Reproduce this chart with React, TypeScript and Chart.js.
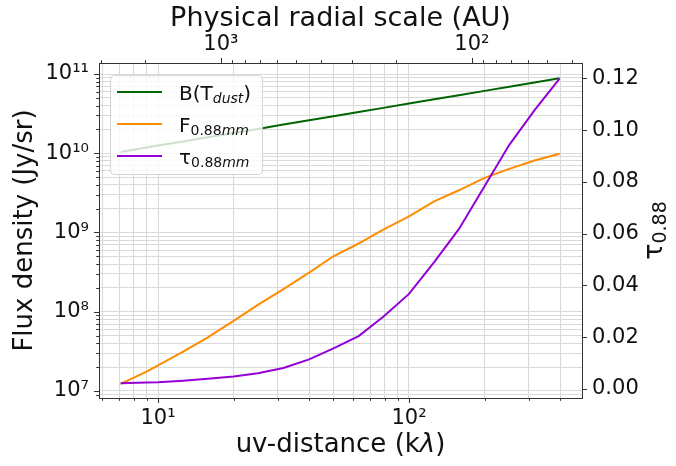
import React, { useEffect, useRef } from 'react';
import { Chart, registerables } from 'chart.js';

Chart.register(...registerables);

// ---------------- data ----------------
const uvDistance = [7.1, 9, 10, 12.6, 15.8, 20, 25, 31.6, 40, 50, 63, 79, 100, 126, 158, 200, 251, 316, 398];
const blackbodyFlux = [1.04e10, 1.18e10, 1.25e10, 1.41e10, 1.59e10, 1.8e10, 2.03e10, 2.3e10, 2.61e10, 2.93e10, 3.32e10, 3.74e10, 4.24e10, 4.8e10, 5.41e10, 6.13e10, 6.92e10, 7.81e10, 8.83e10];
const observedFlux = [1.23e7, 1.75e7, 2.1e7, 3.13e7, 4.75e7, 7.67e7, 1.22e8, 1.93e8, 3.12e8, 5.01e8, 7.26e8, 1.09e9, 1.6e9, 2.47e9, 3.41e9, 4.89e9, 6.35e9, 8.09e9, 9.86e9];
const opticalDepth = [0.0022, 0.0025, 0.0026, 0.0032, 0.0039, 0.0048, 0.0061, 0.0081, 0.0114, 0.0157, 0.0204, 0.0279, 0.0367, 0.049, 0.0617, 0.0783, 0.0943, 0.1076, 0.1199];

// axis ranges
const uvMin = 5.82;
const uvMax = 489;
const fluxMin = 8.15e6;
const fluxMax = 1.378e11;
const tauMin = -0.0035;
const tauMax = 0.1259;
const auPerUv = 17800; // physical scale (AU) = auPerUv / uv-distance

// tick values
const uvMajorTicks = [10, 100];
const uvMinorTicks = [6, 7, 8, 9, 20, 30, 40, 50, 60, 70, 80, 90, 200, 300, 400];
const minorMultipliers = [2, 3, 4, 5, 6, 7, 8, 9];
const fluxMajorTicks = [1e7, 1e8, 1e9, 1e10, 1e11];
const fluxMinorTicks = [9e6, ...[1e7, 1e8, 1e9, 1e10].flatMap((d) => minorMultipliers.map((m) => m * d))];
const tauTicks = [0, 0.02, 0.04, 0.06, 0.08, 0.1, 0.12];
const auMajorTicks = [1000, 100];
const auMinorTicks = [3000, 2000, 900, 800, 700, 600, 500, 400, 300, 200, 90, 80, 70, 60, 50, 40];

// ---------------- styling ----------------
const FONT = '"DejaVu Sans", sans-serif';
const TEXT = '#111111';
const AXIS = '#333333';
const GRID = '#d9d9d9';
const GREEN = '#006400';
const ORANGE = '#ff8c00';
const VIOLET = '#9400d3';

const SUP: Record<string, string> = { '0': '⁰', '1': '¹', '2': '²', '3': '³', '4': '⁴', '5': '⁵', '6': '⁶', '7': '⁷', '8': '⁸', '9': '⁹', '-': '⁻' };
const powLabel = (v: number) => {
  const e = Math.round(Math.log10(v));
  return '10' + String(e).split('').map((c) => SUP[c]).join('');
};
const mkTicks = (major: number[], minor: number[]) =>
  [...major.map((v) => ({ value: v, major: true })), ...minor.map((v) => ({ value: v, major: false }))].sort((a, b) => a.value - b.value);

type Part = { t: string; size: number; italic?: boolean; dy?: number };
function drawRich(ctx: CanvasRenderingContext2D, parts: Part[], x: number, y: number, align: 'left' | 'center') {
  const widths = parts.map((p) => {
    ctx.font = `${p.italic ? 'italic ' : ''}${p.size}px ${FONT}`;
    return ctx.measureText(p.t).width;
  });
  const total = widths.reduce((a, b) => a + b, 0);
  let cx = align === 'center' ? x - total / 2 : x;
  ctx.textAlign = 'left';
  ctx.textBaseline = 'alphabetic';
  parts.forEach((p, i) => {
    ctx.font = `${p.italic ? 'italic ' : ''}${p.size}px ${FONT}`;
    ctx.fillText(p.t, cx, y + (p.dy || 0));
    cx += widths[i];
  });
}

const tickMarksPlugin = {
  id: 'tickMarks',
  afterDraw(chart: any) {
    const ctx: CanvasRenderingContext2D = chart.ctx;
    const { left, right, top, bottom } = chart.chartArea;
    ctx.save();
    ctx.strokeStyle = AXIS;
    ctx.lineWidth = 1;
    (['x', 'x2', 'y', 'y2'] as const).forEach((id) => {
      const s = chart.scales[id];
      s.ticks.forEach((t: any) => {
        const len = t.major ? 5 : 2.8;
        const p = Math.round(s.getPixelForValue(t.value)) + 0.5;
        ctx.beginPath();
        if (id === 'x') { ctx.moveTo(p, bottom); ctx.lineTo(p, bottom + len); }
        if (id === 'x2') { ctx.moveTo(p, top); ctx.lineTo(p, top - len); }
        if (id === 'y') { ctx.moveTo(left, p); ctx.lineTo(left - len, p); }
        if (id === 'y2') { ctx.moveTo(right, p); ctx.lineTo(right + len, p); }
        ctx.stroke();
      });
    });
    ctx.restore();
  },
};

const labelsPlugin = {
  id: 'labelsAndLegend',
  afterDatasetsDraw(chart: any) {
    const ctx: CanvasRenderingContext2D = chart.ctx;
    const ca = chart.chartArea;
    const cxm = (ca.left + ca.right) / 2;
    const cym = (ca.top + ca.bottom) / 2;
    ctx.save();

    // legend box
    const bx = 110.5, by = 75.5, bw = 152, bh = 99, r = 4;
    ctx.beginPath();
    ctx.moveTo(bx + r, by);
    ctx.lineTo(bx + bw - r, by);
    ctx.arcTo(bx + bw, by, bx + bw, by + r, r);
    ctx.lineTo(bx + bw, by + bh - r);
    ctx.arcTo(bx + bw, by + bh, bx + bw - r, by + bh, r);
    ctx.lineTo(bx + r, by + bh);
    ctx.arcTo(bx, by + bh, bx, by + bh - r, r);
    ctx.lineTo(bx, by + r);
    ctx.arcTo(bx, by, bx + r, by, r);
    ctx.closePath();
    ctx.fillStyle = 'rgba(255,255,255,0.8)';
    ctx.fill();
    ctx.strokeStyle = 'rgba(204,204,204,0.8)';
    ctx.lineWidth = 1;
    ctx.stroke();

    const rows: { color: string; y: number; parts: Part[] }[] = [
      { color: GREEN, y: 92, parts: [{ t: 'B(T', size: 20 }, { t: 'dust', size: 14, italic: true, dy: 3.3 }, { t: ')', size: 20 }] },
      { color: ORANGE, y: 124, parts: [{ t: 'F', size: 20 }, { t: '0.88', size: 14, dy: 3.3 }, { t: 'mm', size: 14, italic: true, dy: 3.3 }] },
      { color: VIOLET, y: 156, parts: [{ t: 'τ', size: 20 }, { t: '0.88', size: 14, dy: 3.3 }, { t: 'mm', size: 14, italic: true, dy: 3.3 }] },
    ];
    rows.forEach((row) => {
      ctx.strokeStyle = row.color;
      ctx.lineWidth = 2;
      ctx.beginPath();
      ctx.moveTo(117, row.y);
      ctx.lineTo(162, row.y);
      ctx.stroke();
      ctx.fillStyle = TEXT;
      drawRich(ctx, row.parts, 179, row.y + 8, 'left');
    });

    // axis titles
    ctx.fillStyle = TEXT;
    drawRich(ctx, [{ t: 'Physical radial scale (AU)', size: 27 }], cxm, 26, 'center');
    drawRich(ctx, [{ t: 'uv-distance (k', size: 26 }, { t: 'λ', size: 26, italic: true }, { t: ')', size: 26 }], cxm, 452, 'center');

    ctx.save();
    ctx.translate(32, cym);
    ctx.rotate(-Math.PI / 2);
    drawRich(ctx, [{ t: 'Flux density (Jy/sr)', size: 26 }], 0, 0, 'center');
    ctx.restore();

    ctx.save();
    ctx.translate(662, cym);
    ctx.rotate(-Math.PI / 2);
    drawRich(ctx, [{ t: 'τ', size: 27 }, { t: '0.88', size: 19, dy: 4.4 }], 0, 0, 'center');
    ctx.restore();

    ctx.restore();
  },
};

const tickFont = { family: FONT, size: 21 };

export default function App() {
  const canvasRef = useRef<HTMLCanvasElement | null>(null);

  useEffect(() => {
    if (!canvasRef.current) return;
    const toPoints = (vals: number[]) => uvDistance.map((x, i) => ({ x, y: vals[i] }));
    const chart = new Chart(canvasRef.current, {
      type: 'line',
      data: {
        datasets: [
          { label: 'B(T_dust)', data: toPoints(blackbodyFlux), borderColor: GREEN, borderWidth: 2, pointRadius: 0, yAxisID: 'y', xAxisID: 'x', order: 2, tension: 0 },
          { label: 'F_0.88mm', data: toPoints(observedFlux), borderColor: ORANGE, borderWidth: 2, pointRadius: 0, yAxisID: 'y', xAxisID: 'x', order: 1, tension: 0 },
          { label: 'tau_0.88mm', data: toPoints(opticalDepth), borderColor: VIOLET, borderWidth: 2, pointRadius: 0, yAxisID: 'y2', xAxisID: 'x', order: 0, tension: 0 },
        ],
      },
      options: {
        responsive: false,
        animation: false,
        events: [],
        layout: { padding: 0 },
        plugins: { legend: { display: false }, tooltip: { enabled: false }, title: { display: false } },
        scales: {
          x: {
            type: 'logarithmic',
            position: 'bottom',
            min: uvMin,
            max: uvMax,
            afterBuildTicks: (s: any) => { s.ticks = mkTicks(uvMajorTicks, uvMinorTicks); },
            afterFit: (s: any) => { s.height = 68; },
            ticks: { autoSkip: false, maxRotation: 0, padding: 8, color: TEXT, font: tickFont, callback: (v: any, i: number, t: any[]) => (t[i].major ? powLabel(v) : '') },
            grid: { color: GRID, lineWidth: 1, drawTicks: false },
            border: { color: AXIS, width: 1 },
          },
          x2: {
            type: 'logarithmic',
            position: 'top',
            reverse: true,
            min: auPerUv / uvMax,
            max: auPerUv / uvMin,
            afterBuildTicks: (s: any) => { s.ticks = mkTicks(auMajorTicks, auMinorTicks); },
            afterFit: (s: any) => { s.height = 63; },
            ticks: { autoSkip: false, maxRotation: 0, padding: 6, color: TEXT, font: tickFont, callback: (v: any, i: number, t: any[]) => (t[i].major ? powLabel(v) : '') },
            grid: { display: false, drawTicks: false },
            border: { color: AXIS, width: 1 },
          },
          y: {
            type: 'logarithmic',
            position: 'left',
            min: fluxMin,
            max: fluxMax,
            afterBuildTicks: (s: any) => { s.ticks = mkTicks(fluxMajorTicks, fluxMinorTicks); },
            afterFit: (s: any) => { s.width = 99; },
            ticks: { autoSkip: false, padding: 10, color: TEXT, font: tickFont, callback: (v: any, i: number, t: any[]) => (t[i].major ? powLabel(v) : '') },
            grid: { color: GRID, lineWidth: 1, drawTicks: false },
            border: { color: AXIS, width: 1 },
          },
          y2: {
            type: 'linear',
            position: 'right',
            min: tauMin,
            max: tauMax,
            afterBuildTicks: (s: any) => { s.ticks = tauTicks.map((v) => ({ value: v, major: true })); },
            afterFit: (s: any) => { s.width = 94; },
            ticks: { autoSkip: false, padding: 10, color: TEXT, font: tickFont, callback: (v: any) => Number(v).toFixed(2) },
            grid: { display: false, drawTicks: false },
            border: { color: AXIS, width: 1 },
          },
        },
      },
      plugins: [tickMarksPlugin, labelsPlugin],
    } as any);
    return () => chart.destroy();
  }, []);

  return (
    <div style={{ position: 'fixed', left: 0, top: 0, width: 676, height: 466, background: '#ffffff' }}>
      <canvas ref={canvasRef} width={676} height={466} style={{ display: 'block', width: 676, height: 466 }} />
    </div>
  );
}
